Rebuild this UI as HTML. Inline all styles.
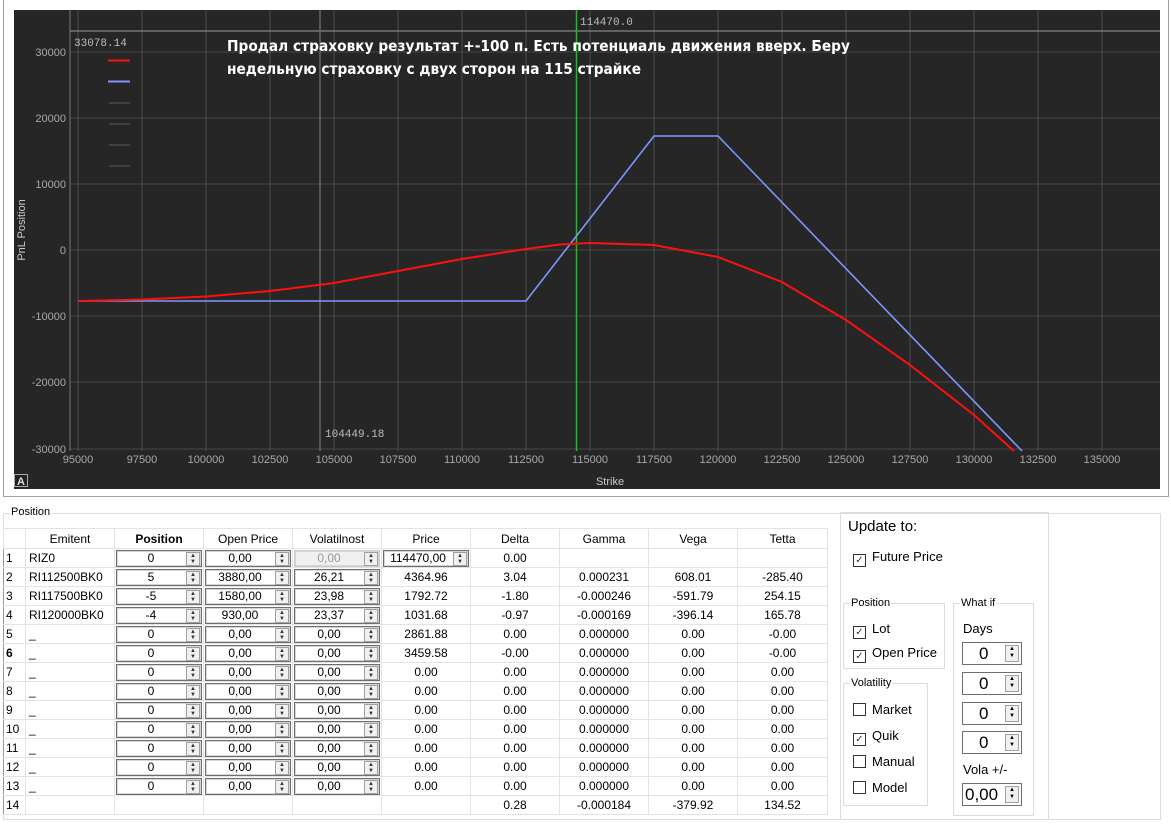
<!DOCTYPE html>
<html><head><meta charset="utf-8">
<style>
body{margin:0;width:1171px;height:824px;background:#fff;position:relative;overflow:hidden;font-family:"Liberation Sans",sans-serif;}
.abs{position:absolute}
table{border-collapse:collapse;table-layout:fixed;font-size:12px;color:#000}
td{height:18px;border:1px solid #e3e3e3;padding:0;text-align:center;white-space:nowrap;overflow:hidden}
td.l{text-align:left;padding-left:3px}
td.n{text-align:left;padding-left:2px;border-left:none}
.sp{position:relative;height:15px;margin:0 1px;border:1px solid #6e6e6e;background:#fff;line-height:15px;text-align:center;padding-right:16px;box-shadow:inset 0 0 0 1px #d6d6d6}
.sp i{position:absolute;right:1px;top:1px;width:12px;height:12px;border:1px solid #a0a0a0;background:#f0f0f0;font-style:normal;font-size:6px;line-height:6px;color:#333}
.sp.d{background:#f0f0f0;color:#999;border-color:#ccc}
.cb{display:inline-block;width:11px;height:11px;border:1px solid #333;vertical-align:-2px;margin-right:6px;font-size:10px;line-height:11px;text-align:center;color:#333}
.gb{position:absolute;border:1px solid #dcdcdc}
.gt{position:absolute;background:#fff;font-size:11px;padding:0 1px}
.big{font-size:13px}
.ds{position:absolute;left:962px;width:58px;height:21px;border:1px solid #6e6e6e;background:#fff;font-size:17px;line-height:21px}
.ds i{position:absolute;right:2px;top:2px;width:12px;height:15px;border:1px solid #a0a0a0;background:#f0f0f0;font-size:6px;line-height:7px;text-align:center;font-style:normal}
</style></head><body>
<div class="abs" style="left:3px;top:0;width:1164px;height:496px;border:1px solid #a0a0a0;border-top:none"></div>
<svg class="abs" style="left:14px;top:10px" width="1146" height="479" viewBox="14 10 1146 479">
<rect x="14" y="10" width="1146" height="479" fill="#262626"/>
<g stroke="#464646" stroke-width="1">
<line x1="70" y1="52" x2="1160" y2="52"/><line x1="70" y1="118" x2="1160" y2="118"/><line x1="70" y1="184" x2="1160" y2="184"/><line x1="70" y1="250" x2="1160" y2="250"/><line x1="70" y1="316" x2="1160" y2="316"/><line x1="70" y1="382" x2="1160" y2="382"/><line x1="70" y1="449" x2="1160" y2="449"/>
</g>
<g stroke="#4e4e4e" stroke-width="1">
<line x1="78" y1="10" x2="78" y2="451"/><line x1="142" y1="10" x2="142" y2="451"/><line x1="206" y1="10" x2="206" y2="451"/><line x1="270" y1="10" x2="270" y2="451"/><line x1="334" y1="10" x2="334" y2="451"/><line x1="398" y1="10" x2="398" y2="451"/><line x1="462" y1="10" x2="462" y2="451"/><line x1="526" y1="10" x2="526" y2="451"/><line x1="590" y1="10" x2="590" y2="451"/><line x1="654" y1="10" x2="654" y2="451"/><line x1="718" y1="10" x2="718" y2="451"/><line x1="782" y1="10" x2="782" y2="451"/><line x1="846" y1="10" x2="846" y2="451"/><line x1="910" y1="10" x2="910" y2="451"/><line x1="974" y1="10" x2="974" y2="451"/><line x1="1038" y1="10" x2="1038" y2="451"/><line x1="1102" y1="10" x2="1102" y2="451"/>
</g>
<line x1="70" y1="10" x2="70" y2="451" stroke="#777"/>
<line x1="70" y1="31" x2="1160" y2="31" stroke="#777" stroke-width="1.5"/>
<line x1="320" y1="10" x2="320" y2="451" stroke="#666" stroke-width="1.5"/>
<line x1="576.5" y1="10" x2="576.5" y2="451" stroke="#19c219" stroke-width="1.5"/>
<polyline fill="none" stroke="#7e96ff" stroke-width="1.6" points="78,301 526,301 654,136 718,136 1022,451"/>
<polyline fill="none" stroke="#ff1010" stroke-width="2" points="78,301 142,299.5 206,296.5 270,291 334,283 398,271 462,259 526,249 560,244.5 590,243 654,245 718,257 782,282 846,320 910,365 974,415 1014,451"/>
<line x1="108" y1="60.5" x2="130" y2="60.5" stroke="#ff1010" stroke-width="2"/>
<line x1="108" y1="81.5" x2="130" y2="81.5" stroke="#7e96ff" stroke-width="2"/>
<g stroke="#5a5a5a"><line x1="109" y1="103" x2="130" y2="103"/><line x1="109" y1="124" x2="130" y2="124"/><line x1="109" y1="145" x2="130" y2="145"/><line x1="109" y1="166" x2="130" y2="166"/></g>
<g font-family="Liberation Sans,sans-serif" font-size="11" fill="#a8a8a8" text-anchor="end">
<text x="66" y="56">30000</text><text x="66" y="122">20000</text><text x="66" y="188">10000</text><text x="66" y="254">0</text><text x="66" y="320">-10000</text><text x="66" y="386">-20000</text><text x="66" y="453">-30000</text>
</g>
<g font-family="Liberation Sans,sans-serif" font-size="11" fill="#a8a8a8" text-anchor="middle">
<text x="78" y="463">95000</text><text x="142" y="463">97500</text><text x="206" y="463">100000</text><text x="270" y="463">102500</text><text x="334" y="463">105000</text><text x="398" y="463">107500</text><text x="462" y="463">110000</text><text x="526" y="463">112500</text><text x="590" y="463">115000</text><text x="654" y="463">117500</text><text x="718" y="463">120000</text><text x="782" y="463">122500</text><text x="846" y="463">125000</text><text x="910" y="463">127500</text><text x="974" y="463">130000</text><text x="1038" y="463">132500</text><text x="1102" y="463">135000</text>
</g>
<g font-family="Liberation Mono,monospace" font-size="11" fill="#bdbdbd">
<text x="74" y="46">33078.14</text><text x="325" y="437">104449.18</text><text x="580" y="25">114470.0</text>
</g>
<text x="610" y="485" font-family="Liberation Sans,sans-serif" font-size="11" fill="#ccc" text-anchor="middle">Strike</text>
<text transform="translate(25,230) rotate(-90)" font-family="Liberation Sans,sans-serif" font-size="11" fill="#ccc" text-anchor="middle">PnL Position</text>
<g font-family="DejaVu Sans,sans-serif" font-size="15" font-weight="bold" fill="#fff">
<text x="227" y="51" textLength="623" lengthAdjust="spacingAndGlyphs">Продал страховку результат +-100 п. Есть потенциаль движения вверх. Беру</text>
<text x="227" y="74" textLength="414" lengthAdjust="spacingAndGlyphs">недельную страховку с двух сторон на 115 страйке</text>
</g>
<rect x="14.5" y="474.5" width="13" height="12" fill="#222" stroke="#aaa"/>
<text x="21" y="485" font-family="Liberation Sans,sans-serif" font-size="11" font-weight="bold" fill="#ddd" text-anchor="middle">A</text>
</svg>

<div class="gb" style="left:3px;top:513px;width:1156px;height:305px"></div>
<div class="gt" style="left:10px;top:506px">Position</div>

<table class="abs" style="left:3px;top:528px;width:824px;border:1px solid #999">
<colgroup><col style="width:22px"><col style="width:89px"><col style="width:89px"><col style="width:89px"><col style="width:89px"><col style="width:89px"><col style="width:89px"><col style="width:89px"><col style="width:89px"><col style="width:90px"></colgroup>
<tr style="height:20px"><td></td><td>Emitent</td><td><b>Position</b></td><td>Open Price</td><td>Volatilnost</td><td>Price</td><td>Delta</td><td>Gamma</td><td>Vega</td><td>Tetta</td></tr>
<tr><td class="n">1</td><td class="l">RIZ0</td><td><div class="sp">0<i>▲<br>▼</i></div></td><td><div class="sp">0,00<i>▲<br>▼</i></div></td><td><div class="sp d">0,00<i>▲<br>▼</i></div></td><td><div class="sp">114470,00<i>▲<br>▼</i></div></td><td>0.00</td><td></td><td></td><td></td></tr>
<tr><td class="n">2</td><td class="l">RI112500BK0</td><td><div class="sp">5<i>▲<br>▼</i></div></td><td><div class="sp">3880,00<i>▲<br>▼</i></div></td><td><div class="sp">26,21<i>▲<br>▼</i></div></td><td>4364.96</td><td>3.04</td><td>0.000231</td><td>608.01</td><td>-285.40</td></tr>
<tr><td class="n">3</td><td class="l">RI117500BK0</td><td><div class="sp">-5<i>▲<br>▼</i></div></td><td><div class="sp">1580,00<i>▲<br>▼</i></div></td><td><div class="sp">23,98<i>▲<br>▼</i></div></td><td>1792.72</td><td>-1.80</td><td>-0.000246</td><td>-591.79</td><td>254.15</td></tr>
<tr><td class="n">4</td><td class="l">RI120000BK0</td><td><div class="sp">-4<i>▲<br>▼</i></div></td><td><div class="sp">930,00<i>▲<br>▼</i></div></td><td><div class="sp">23,37<i>▲<br>▼</i></div></td><td>1031.68</td><td>-0.97</td><td>-0.000169</td><td>-396.14</td><td>165.78</td></tr>
<tr><td class="n">5</td><td class="l">_</td><td><div class="sp">0<i>▲<br>▼</i></div></td><td><div class="sp">0,00<i>▲<br>▼</i></div></td><td><div class="sp">0,00<i>▲<br>▼</i></div></td><td>2861.88</td><td>0.00</td><td>0.000000</td><td>0.00</td><td>-0.00</td></tr>
<tr><td class="n"><b>6</b></td><td class="l">_</td><td><div class="sp">0<i>▲<br>▼</i></div></td><td><div class="sp">0,00<i>▲<br>▼</i></div></td><td><div class="sp">0,00<i>▲<br>▼</i></div></td><td>3459.58</td><td>-0.00</td><td>0.000000</td><td>0.00</td><td>-0.00</td></tr>
<tr><td class="n">7</td><td class="l">_</td><td><div class="sp">0<i>▲<br>▼</i></div></td><td><div class="sp">0,00<i>▲<br>▼</i></div></td><td><div class="sp">0,00<i>▲<br>▼</i></div></td><td>0.00</td><td>0.00</td><td>0.000000</td><td>0.00</td><td>0.00</td></tr>
<tr><td class="n">8</td><td class="l">_</td><td><div class="sp">0<i>▲<br>▼</i></div></td><td><div class="sp">0,00<i>▲<br>▼</i></div></td><td><div class="sp">0,00<i>▲<br>▼</i></div></td><td>0.00</td><td>0.00</td><td>0.000000</td><td>0.00</td><td>0.00</td></tr>
<tr><td class="n">9</td><td class="l">_</td><td><div class="sp">0<i>▲<br>▼</i></div></td><td><div class="sp">0,00<i>▲<br>▼</i></div></td><td><div class="sp">0,00<i>▲<br>▼</i></div></td><td>0.00</td><td>0.00</td><td>0.000000</td><td>0.00</td><td>0.00</td></tr>
<tr><td class="n">10</td><td class="l">_</td><td><div class="sp">0<i>▲<br>▼</i></div></td><td><div class="sp">0,00<i>▲<br>▼</i></div></td><td><div class="sp">0,00<i>▲<br>▼</i></div></td><td>0.00</td><td>0.00</td><td>0.000000</td><td>0.00</td><td>0.00</td></tr>
<tr><td class="n">11</td><td class="l">_</td><td><div class="sp">0<i>▲<br>▼</i></div></td><td><div class="sp">0,00<i>▲<br>▼</i></div></td><td><div class="sp">0,00<i>▲<br>▼</i></div></td><td>0.00</td><td>0.00</td><td>0.000000</td><td>0.00</td><td>0.00</td></tr>
<tr><td class="n">12</td><td class="l">_</td><td><div class="sp">0<i>▲<br>▼</i></div></td><td><div class="sp">0,00<i>▲<br>▼</i></div></td><td><div class="sp">0,00<i>▲<br>▼</i></div></td><td>0.00</td><td>0.00</td><td>0.000000</td><td>0.00</td><td>0.00</td></tr>
<tr><td class="n">13</td><td class="l">_</td><td><div class="sp">0<i>▲<br>▼</i></div></td><td><div class="sp">0,00<i>▲<br>▼</i></div></td><td><div class="sp">0,00<i>▲<br>▼</i></div></td><td>0.00</td><td>0.00</td><td>0.000000</td><td>0.00</td><td>0.00</td></tr>
<tr><td class="n">14</td><td></td><td></td><td></td><td></td><td></td><td>0.28</td><td>-0.000184</td><td>-379.92</td><td>134.52</td></tr>
</table>

<div class="gb" style="left:840px;top:512px;width:207px;height:306px"></div>
<div class="abs" style="left:848px;top:518px;font-size:15px">Update to:</div>
<div class="abs big" style="left:853px;top:549px"><span class="cb">✓</span>Future Price</div>

<div class="gb" style="left:843px;top:603px;width:100px;height:64px"></div>
<div class="gt" style="left:850px;top:597px">Position</div>
<div class="abs big" style="left:853px;top:621px"><span class="cb">✓</span>Lot</div>
<div class="abs big" style="left:853px;top:645px"><span class="cb">✓</span>Open Price</div>

<div class="gb" style="left:843px;top:683px;width:83px;height:121px"></div>
<div class="gt" style="left:850px;top:677px">Volatility</div>
<div class="abs big" style="left:853px;top:702px"><span class="cb"></span>Market</div>
<div class="abs big" style="left:853px;top:728px"><span class="cb">✓</span>Quik</div>
<div class="abs big" style="left:853px;top:754px"><span class="cb"></span>Manual</div>
<div class="abs big" style="left:853px;top:780px"><span class="cb"></span>Model</div>

<div class="gb" style="left:953px;top:603px;width:79px;height:211px"></div>
<div class="gt" style="left:960px;top:597px">What if</div>
<div class="abs big" style="left:963px;top:621px">Days</div>
<div class="ds" style="top:642px"><span style="margin-left:16px">0</span><i>▲<br>▼</i></div>
<div class="ds" style="top:672px"><span style="margin-left:16px">0</span><i>▲<br>▼</i></div>
<div class="ds" style="top:702px"><span style="margin-left:16px">0</span><i>▲<br>▼</i></div>
<div class="ds" style="top:731px"><span style="margin-left:16px">0</span><i>▲<br>▼</i></div>
<div class="abs big" style="left:963px;top:762px">Vola +/-</div>
<div class="ds" style="top:783px"><span style="margin-left:2px">0,00</span><i>▲<br>▼</i></div>
</body></html>
